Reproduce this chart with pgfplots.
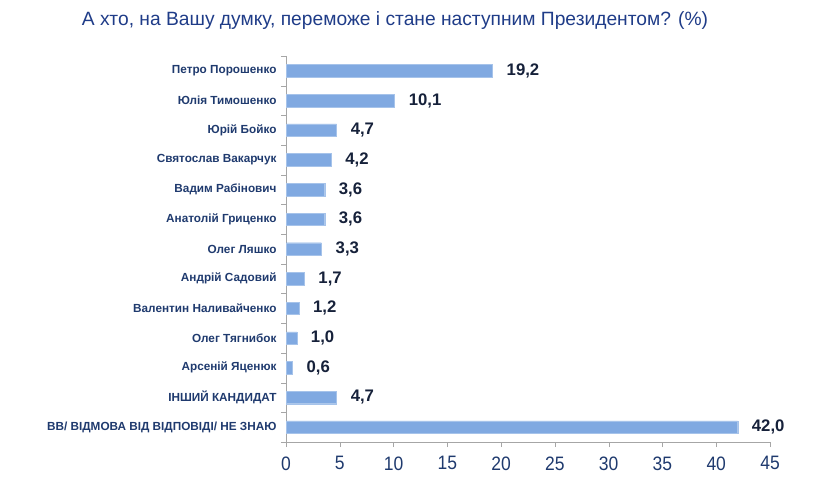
\documentclass[border=0pt]{standalone}
\usepackage{fontspec}
\setmainfont{Liberation Sans}
\newfontfamily\narrowfont[FakeStretch=0.9]{Liberation Sans}
\usepackage{pgfplots}
\pgfplotsset{compat=1.18}
\definecolor{barblue}{HTML}{80A9E1}
\definecolor{navy}{HTML}{1F3A6E}
\definecolor{titleblue}{HTML}{1F3C88}
\definecolor{valcol}{HTML}{16213A}
\begin{document}
\begin{tikzpicture}[x=1bp,y=1bp]
\path[use as bounding box] (0,0) rectangle (834,483);
\node[font=\fontsize{19.3}{22}\selectfont, text=titleblue, anchor=center] at (395,462) {А хто, на Вашу думку, переможе і стане наступним Президентом? (\%)};
\begin{axis}[
  at={(286bp,41bp)}, anchor=south west,
  scale only axis, width=484bp, height=386bp,
  xmin=0, xmax=45, ymin=-0.5, ymax=12.5,
  y dir=reverse,
  xbar, bar width=12.5bp,
  axis x line*=bottom, axis y line*=left,
  axis line style={draw=gray!70},
  tick style={draw=gray!70},
  tick align=outside, major tick length=5bp,
  xtick={0,5,...,45},
  ytick={-0.5,0.5,...,12.5}, yticklabels={},
  extra y ticks={0,1,2,3,4,5,6,7,8,9,10,11,12},
  extra y tick labels={Петро Порошенко, Юлія Тимошенко, Юрій Бойко, Святослав Вакарчук, Вадим Рабінович, Анатолій Гриценко, Олег Ляшко, Андрій Садовий, Валентин Наливайченко, Олег Тягнибок, Арсеній Яценюк, ІНШИЙ КАНДИДАТ, ВВ/ ВІДМОВА ВІД ВІДПОВІДІ/ НЕ ЗНАЮ},
  extra y tick style={major tick length=0pt, yticklabel style={font=\bfseries\fontsize{11.8}{13}\selectfont, text=navy, xshift=-6bp}},
  /pgf/number format/assume math mode=true,
  xticklabel style={font=\narrowfont\fontsize{19.5}{21}\selectfont, text=navy, yshift=-6bp},
  point meta=x,
  nodes near coords={\pgfmathprintnumber[fixed, fixed zerofill, precision=1, use comma]{\pgfplotspointmeta}},
  nodes near coords style={anchor=west, inner sep=0pt, xshift=14bp, font=\bfseries\fontsize{16.8}{18}\selectfont, text=valcol},
  clip=false,
]
\addplot[fill=barblue, draw=barblue!70!white] coordinates {(19.2,0) (10.1,1) (4.7,2) (4.2,3) (3.6,4) (3.6,5) (3.3,6) (1.7,7) (1.2,8) (1.0,9) (0.6,10) (4.7,11) (42.0,12)};
\end{axis}
\end{tikzpicture}
\end{document}
